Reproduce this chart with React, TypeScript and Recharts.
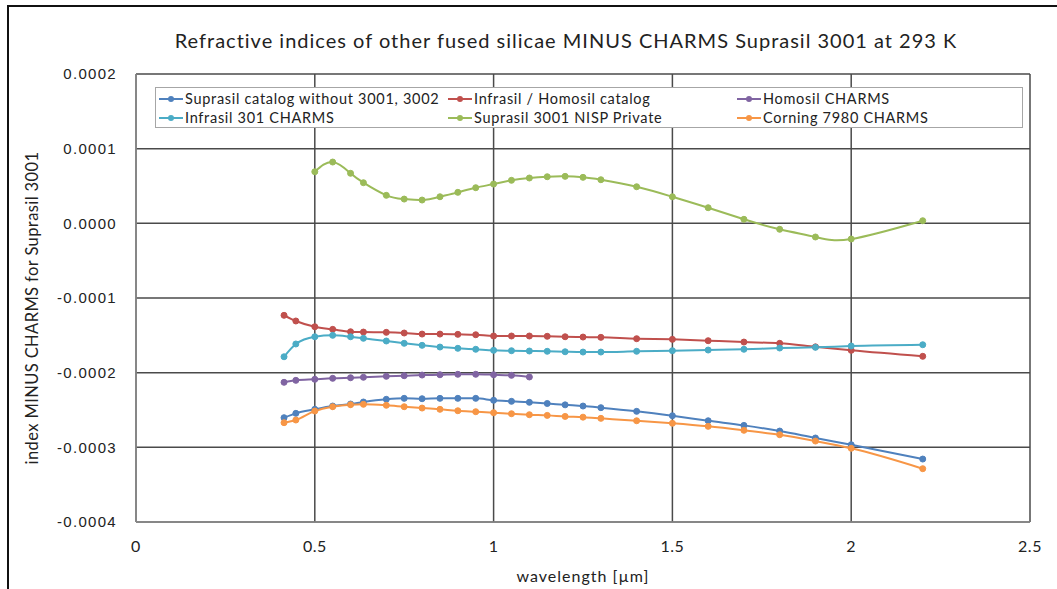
import React from 'react';
import { LineChart, Line, XAxis, YAxis, CartesianGrid } from 'recharts';

// wavelengths in µm
const wlCatalog = [
  0.414, 0.447, 0.5, 0.55, 0.6, 0.636, 0.7, 0.75, 0.8, 0.85, 0.9, 0.95, 1.0,
  1.05, 1.1, 1.15, 1.2, 1.25, 1.3, 1.4, 1.5, 1.6, 1.7, 1.8, 1.9, 2.0, 2.2,
];
const wlHomosil = [
  0.414, 0.447, 0.5, 0.55, 0.6, 0.636, 0.7, 0.75, 0.8, 0.85, 0.9, 0.95, 1.0,
  1.05, 1.1,
];
const wlNisp = [
  0.5, 0.55, 0.6, 0.636, 0.7, 0.75, 0.8, 0.85, 0.9, 0.95, 1.0, 1.05, 1.1, 1.15,
  1.2, 1.25, 1.3, 1.4, 1.5, 1.6, 1.7, 1.8, 1.9, 2.0, 2.2,
];

// index differences, in units of 1e-4
const suprasilCatalog = [
  -2.603, -2.545, -2.491, -2.447, -2.42, -2.393, -2.357, -2.344, -2.349,
  -2.344, -2.344, -2.344, -2.37, -2.384, -2.397, -2.413, -2.431, -2.447,
  -2.469, -2.518, -2.577, -2.644, -2.706, -2.782, -2.875, -2.965, -3.157,
];
const infrasilCatalog = [
  -1.232, -1.308, -1.385, -1.42, -1.452, -1.456, -1.46, -1.469, -1.483,
  -1.483, -1.487, -1.492, -1.509, -1.509, -1.509, -1.513, -1.519, -1.523,
  -1.527, -1.545, -1.554, -1.572, -1.59, -1.607, -1.654, -1.701, -1.781,
];
const homosilCharms = [
  -2.129, -2.103, -2.089, -2.076, -2.068, -2.062, -2.049, -2.041, -2.032,
  -2.028, -2.022, -2.022, -2.028, -2.036, -2.058,
];
const infrasil301 = [
  -1.787, -1.616, -1.519, -1.5, -1.519, -1.54, -1.576, -1.607, -1.634,
  -1.657, -1.674, -1.687, -1.701, -1.706, -1.71, -1.714, -1.72, -1.724,
  -1.724, -1.714, -1.706, -1.697, -1.687, -1.67, -1.661, -1.643, -1.626,
];
const suprasilNisp = [
  0.691, 0.821, 0.67, 0.544, 0.375, 0.325, 0.312, 0.356, 0.415, 0.477, 0.526,
  0.576, 0.607, 0.624, 0.629, 0.616, 0.584, 0.49, 0.356, 0.209, 0.054, -0.08,
  -0.183, -0.21, 0.035,
];
const corning7980 = [
  -2.67, -2.634, -2.514, -2.456, -2.429, -2.424, -2.437, -2.456, -2.474,
  -2.491, -2.51, -2.523, -2.536, -2.55, -2.563, -2.572, -2.586, -2.596,
  -2.612, -2.644, -2.678, -2.719, -2.772, -2.831, -2.916, -3.013, -3.286,
];

const xTicks = [0, 0.5, 1, 1.5, 2, 2.5];
const yTicks = [-4, -3, -2, -1, 0, 1, 2];

const toPoints = (xs: number[], ys: number[]) =>
  ys.map((y, i) => ({ x: xs[i], y }));

const series = [
  { name: 'Suprasil catalog without 3001, 3002', color: '#4F81BD', data: toPoints(wlCatalog, suprasilCatalog), curve: 'monotone' },
  { name: 'Infrasil / Homosil catalog', color: '#C0504D', data: toPoints(wlCatalog, infrasilCatalog), curve: 'monotone' },
  { name: 'Homosil CHARMS', color: '#8064A2', data: toPoints(wlHomosil, homosilCharms), curve: 'monotone' },
  { name: 'Infrasil 301 CHARMS', color: '#4BACC6', data: toPoints(wlCatalog, infrasil301), curve: 'monotone' },
  { name: 'Suprasil 3001 NISP Private', color: '#9BBB59', data: toPoints(wlNisp, suprasilNisp), curve: 'natural' },
  { name: 'Corning 7980 CHARMS', color: '#F79646', data: toPoints(wlCatalog, corning7980), curve: 'monotone' },
];

const FONT = 'Lato, "Open Sans", sans-serif';

function LegendBox() {
  return (
    <div
      style={{
        position: 'absolute',
        left: 155,
        top: 87,
        boxSizing: 'border-box',
        width: 868,
        height: 41,
        border: '1px solid #a6a6a6',
        background: '#fff',
        display: 'grid',
        gridTemplateColumns: '289px 289px 289px',
        gridAutoRows: '19px',
        paddingTop: 1,
        paddingLeft: 3,
        fontFamily: FONT,
        fontSize: 14.5,
        letterSpacing: 0.7,
        color: '#222',
      }}
    >
      {series.map((s) => (
        <div key={s.name} style={{ display: 'flex', alignItems: 'center' }}>
          <svg width={24} height={10} style={{ flex: 'none' }}>
            <line x1={0} y1={5} x2={24} y2={5} stroke={s.color} strokeWidth={2} />
            <circle cx={12} cy={5} r={3} fill={s.color} />
          </svg>
          <span style={{ marginLeft: 2, whiteSpace: 'nowrap' }}>{s.name}</span>
        </div>
      ))}
    </div>
  );
}

export default function App() {
  return (
    <div
      style={{
        position: 'absolute',
        left: 0,
        top: 0,
        width: 1057,
        height: 589,
        background: '#fff',
        overflow: 'hidden',
      }}
    >
      <div
        style={{
          position: 'absolute',
          left: 7,
          top: 5,
          width: 1100,
          height: 650,
          borderTop: '2px solid #111',
          borderLeft: '2px solid #111',
        }}
      />
      <div
        style={{
          position: 'absolute',
          left: 0,
          top: 28,
          width: 1132,
          textAlign: 'center',
          fontFamily: FONT,
          fontSize: 20,
          letterSpacing: 1,
          color: '#222',
        }}
      >
        Refractive indices of other fused silicae MINUS CHARMS Suprasil 3001 at 293 K
      </div>
      <div
        style={{
          position: 'absolute',
          left: 32,
          top: 308,
          transform: 'translate(-50%, -50%) rotate(-90deg)',
          whiteSpace: 'nowrap',
          fontFamily: FONT,
          fontSize: 16.5,
          letterSpacing: 0.4,
          color: '#222',
        }}
      >
        index MINUS CHARMS for Suprasil 3001
      </div>
      <div
        style={{
          position: 'absolute',
          left: 583,
          top: 575,
          transform: 'translate(-50%, -50%)',
          whiteSpace: 'nowrap',
          fontFamily: FONT,
          fontSize: 16,
          letterSpacing: 1,
          color: '#222',
        }}
      >
        wavelength [µm]
      </div>
      <LineChart
        width={1057}
        height={589}
        margin={{ top: 74, right: 27, bottom: 37, left: 56 }}
        style={{ position: 'absolute', left: 0, top: 0 }}
      >
        <CartesianGrid stroke="#4a4a4a" strokeWidth={1.5} />
        <XAxis
          dataKey="x"
          type="number"
          domain={[0, 2.5]}
          ticks={xTicks}
          height={30}
          axisLine={{ stroke: '#8c8c8c', strokeWidth: 1.5 }}
          tickLine={false}
          tickSize={6}
          tickMargin={13}
          tick={{ fontFamily: FONT, fontSize: 16, fill: '#222', letterSpacing: 0.5 }}
          allowDuplicatedCategory={false}
        />
        <YAxis
          type="number"
          domain={[-4, 2]}
          ticks={yTicks}
          width={80}
          axisLine={{ stroke: '#8c8c8c', strokeWidth: 1.5 }}
          tickLine={false}
          tickSize={6}
          tickMargin={13}
          tick={{
            fontFamily: '"Liberation Sans", Arial, sans-serif',
            fontSize: 15,
            fill: '#222',
            letterSpacing: 1.3,
          }}
          tickFormatter={(v: number) => (v / 1e4).toFixed(4)}
        />
        {series.map((s) => (
          <Line
            key={s.name}
            data={s.data}
            dataKey="y"
            name={s.name}
            type={s.curve as 'monotone' | 'natural'}
            stroke={s.color}
            strokeWidth={2}
            dot={{ r: 3, fill: s.color, stroke: s.color, strokeWidth: 1 }}
            activeDot={false}
            isAnimationActive={false}
          />
        ))}
      </LineChart>
      <LegendBox />
    </div>
  );
}
